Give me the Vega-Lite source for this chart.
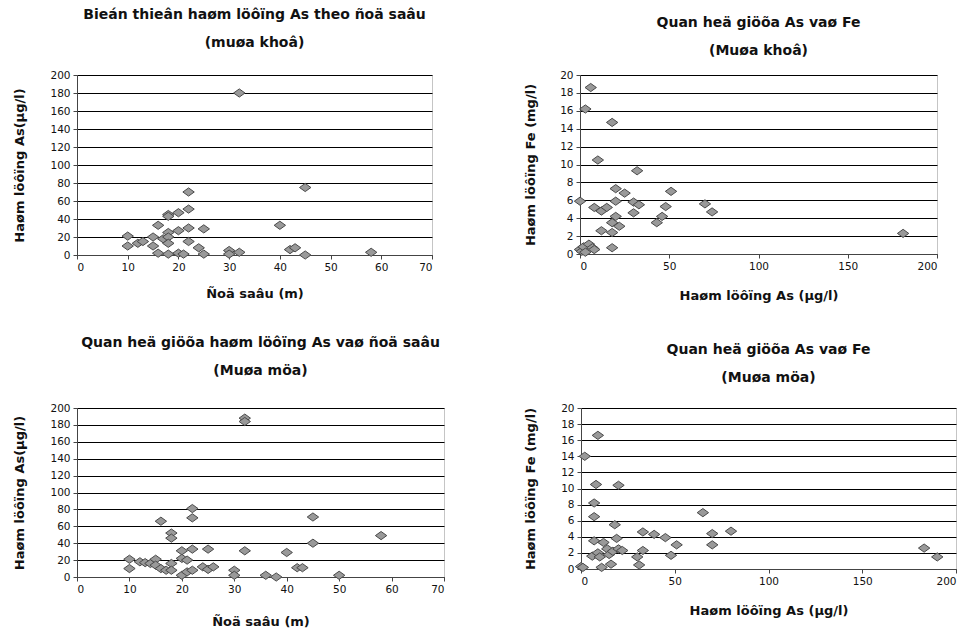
{
  "$schema": "https://vega.github.io/schema/vega-lite/v6.json",
  "background": "white",
  "padding": {"left": 13, "top": 7, "right": 3, "bottom": 0},
  "datasets": {
    "khoDepth": [
      {"depth": 10, "as": 21}, {"depth": 10, "as": 10}, {"depth": 12, "as": 13}, {"depth": 13, "as": 15},
      {"depth": 15, "as": 20}, {"depth": 15, "as": 10}, {"depth": 16, "as": 33}, {"depth": 16, "as": 2},
      {"depth": 17, "as": 18}, {"depth": 18, "as": 45}, {"depth": 18, "as": 43}, {"depth": 18, "as": 25},
      {"depth": 18, "as": 20}, {"depth": 18, "as": 13}, {"depth": 18, "as": 1}, {"depth": 20, "as": 47},
      {"depth": 20, "as": 27}, {"depth": 20, "as": 2}, {"depth": 21, "as": 1}, {"depth": 22, "as": 70},
      {"depth": 22, "as": 51}, {"depth": 22, "as": 30}, {"depth": 22, "as": 15}, {"depth": 24, "as": 8},
      {"depth": 25, "as": 29}, {"depth": 25, "as": 1}, {"depth": 30, "as": 5}, {"depth": 30, "as": 1},
      {"depth": 32, "as": 180}, {"depth": 32, "as": 3}, {"depth": 40, "as": 33}, {"depth": 42, "as": 6},
      {"depth": 43, "as": 8}, {"depth": 45, "as": 75}, {"depth": 45, "as": 0}, {"depth": 58, "as": 3}
    ],
    "khoFe": [
      {"as": 0, "fe": 5.9}, {"as": 3, "fe": 16.2}, {"as": 6, "fe": 18.6}, {"as": 18, "fe": 14.7},
      {"as": 10, "fe": 10.5}, {"as": 32, "fe": 9.3}, {"as": 20, "fe": 7.3}, {"as": 25, "fe": 6.8},
      {"as": 51, "fe": 7.0}, {"as": 20, "fe": 5.9}, {"as": 30, "fe": 5.8}, {"as": 33, "fe": 5.5},
      {"as": 48, "fe": 5.3}, {"as": 70, "fe": 5.6}, {"as": 74, "fe": 4.7}, {"as": 8, "fe": 5.2},
      {"as": 12, "fe": 4.8}, {"as": 15, "fe": 5.2}, {"as": 30, "fe": 4.6}, {"as": 20, "fe": 4.2},
      {"as": 46, "fe": 4.2}, {"as": 43, "fe": 3.5}, {"as": 18, "fe": 3.5}, {"as": 22, "fe": 3.1},
      {"as": 12, "fe": 2.6}, {"as": 18, "fe": 2.4}, {"as": 18, "fe": 0.7}, {"as": 0, "fe": 0.5},
      {"as": 1, "fe": 0.3}, {"as": 2, "fe": 0.8}, {"as": 3, "fe": 0.2}, {"as": 5, "fe": 1.1},
      {"as": 7, "fe": 0.7}, {"as": 8, "fe": 0.5}, {"as": 181, "fe": 2.3}
    ],
    "muaDepth": [
      {"depth": 10, "as": 21}, {"depth": 10, "as": 10}, {"depth": 12, "as": 18}, {"depth": 13, "as": 17},
      {"depth": 14, "as": 16}, {"depth": 15, "as": 21}, {"depth": 15, "as": 14}, {"depth": 16, "as": 66},
      {"depth": 16, "as": 10}, {"depth": 17, "as": 8}, {"depth": 18, "as": 52}, {"depth": 18, "as": 46},
      {"depth": 18, "as": 16}, {"depth": 18, "as": 8}, {"depth": 20, "as": 31}, {"depth": 20, "as": 22},
      {"depth": 20, "as": 2}, {"depth": 21, "as": 6}, {"depth": 21, "as": 20}, {"depth": 22, "as": 81},
      {"depth": 22, "as": 70}, {"depth": 22, "as": 33}, {"depth": 22, "as": 8}, {"depth": 24, "as": 12},
      {"depth": 25, "as": 33}, {"depth": 25, "as": 9}, {"depth": 26, "as": 12}, {"depth": 30, "as": 8},
      {"depth": 30, "as": 2}, {"depth": 32, "as": 188}, {"depth": 32, "as": 184}, {"depth": 32, "as": 31},
      {"depth": 36, "as": 2}, {"depth": 38, "as": 0}, {"depth": 40, "as": 29}, {"depth": 42, "as": 11},
      {"depth": 43, "as": 11}, {"depth": 45, "as": 71}, {"depth": 45, "as": 40}, {"depth": 50, "as": 2},
      {"depth": 58, "as": 49}
    ],
    "muaFe": [
      {"as": 0, "fe": 0.3}, {"as": 1, "fe": 0.2}, {"as": 2, "fe": 14.0}, {"as": 9, "fe": 16.6},
      {"as": 8, "fe": 10.5}, {"as": 20, "fe": 10.4}, {"as": 7, "fe": 8.2}, {"as": 7, "fe": 6.5},
      {"as": 18, "fe": 5.5}, {"as": 7, "fe": 3.5}, {"as": 12, "fe": 3.3}, {"as": 19, "fe": 3.8},
      {"as": 33, "fe": 4.6}, {"as": 39, "fe": 4.3}, {"as": 45, "fe": 3.9}, {"as": 51, "fe": 3.0},
      {"as": 48, "fe": 1.7}, {"as": 65, "fe": 7.0}, {"as": 70, "fe": 4.4}, {"as": 70, "fe": 3.0},
      {"as": 80, "fe": 4.7}, {"as": 33, "fe": 2.3}, {"as": 30, "fe": 1.5}, {"as": 31, "fe": 0.5},
      {"as": 6, "fe": 1.6}, {"as": 9, "fe": 2.0}, {"as": 10, "fe": 1.5}, {"as": 14, "fe": 2.5},
      {"as": 15, "fe": 1.8}, {"as": 17, "fe": 2.2}, {"as": 20, "fe": 2.5}, {"as": 22, "fe": 2.3},
      {"as": 16, "fe": 0.6}, {"as": 11, "fe": 0.2}, {"as": 183, "fe": 2.6}, {"as": 190, "fe": 1.5}
    ]
  },
  "config": {
    "font": "DejaVu Sans",
    "view": {"stroke": "#8a8a8a", "strokeDash": [1, 1], "strokeWidth": 1},
    "axis": {
      "labelFont": "DejaVu Sans", "labelFontSize": 10.5, "labelColor": "#111",
      "titleFont": "DejaVu Sans", "titleFontSize": 13, "titleFontWeight": "bold", "titleColor": "#111",
      "domainColor": "#444", "tickColor": "#444", "tickSize": 4, "labelPadding": 3, "grid": false
    },
    "axisY": {"grid": true, "gridColor": "#000", "gridWidth": 1, "gridOpacity": 1},
    "title": {"font": "DejaVu Sans", "fontSize": 14, "fontWeight": "bold", "color": "#111", "anchor": "middle", "lineHeight": 28, "offset": 20},
    "point": {"shape": "M-1,0L0,-0.72L1,0L0,0.72Z", "filled": true, "fill": "#999999", "stroke": "#4a4a4a", "strokeWidth": 1, "size": 130, "opacity": 1}
  },
  "vconcat": [
    {
      "hconcat": [
        {
          "title": {"text": ["Bieán thieân haøm löôïng As theo ñoä saâu", "(muøa khoâ)"], "offset": 20},
          "width": 355, "height": 180,
          "data": {"name": "khoDepth"},
          "mark": {"type": "point"},
          "encoding": {
            "x": {"field": "depth", "type": "quantitative", "scale": {"domain": [0, 70], "nice": false},
                  "axis": {"values": [0, 10, 20, 30, 40, 50, 60, 70], "title": "Ñoä saâu (m)", "titlePadding": 15}},
            "y": {"field": "as", "type": "quantitative", "scale": {"domain": [0, 200], "nice": false},
                  "axis": {"values": [0, 20, 40, 60, 80, 100, 120, 140, 160, 180, 200], "title": "Haøm löôïng As(µg/l)", "titlePadding": 23}}
          }
        },
        {
          "title": {"text": ["Quan heä giöõa As vaø Fe", "(Muøa khoâ)"], "offset": 12},
          "width": 357, "height": 179,
          "data": {"name": "khoFe"},
          "mark": {"type": "point"},
          "encoding": {
            "x": {"field": "as", "type": "quantitative", "scale": {"domain": [0, 200], "nice": false},
                  "axis": {"values": [0, 50, 100, 150, 200], "title": "Haøm löôïng As (µg/l)", "titlePadding": 18}},
            "y": {"field": "fe", "type": "quantitative", "scale": {"domain": [0, 20], "nice": false},
                  "axis": {"values": [0, 2, 4, 6, 8, 10, 12, 14, 16, 18, 20], "title": "Haøm löôïng Fe (mg/l)", "titlePadding": 22}}
          }
        }
      ],
      "spacing": 91
    },
    {
      "hconcat": [
        {
          "title": {"text": ["Quan heä giöõa haøm löôïng As vaø ñoä saâu", "(Muøa möa)"], "offset": 25},
          "width": 367, "height": 169,
          "data": {"name": "muaDepth"},
          "mark": {"type": "point"},
          "encoding": {
            "x": {"field": "depth", "type": "quantitative", "scale": {"domain": [0, 70], "nice": false},
                  "axis": {"values": [0, 10, 20, 30, 40, 50, 60, 70], "title": "Ñoä saâu (m)", "titlePadding": 21}},
            "y": {"field": "as", "type": "quantitative", "scale": {"domain": [0, 200], "nice": false},
                  "axis": {"values": [0, 20, 40, 60, 80, 100, 120, 140, 160, 180, 200], "title": "Haøm löôïng As(µg/l)", "titlePadding": 23}}
          }
        },
        {
          "title": {"text": ["Quan heä giöõa As vaø Fe", "(Muøa möa)"], "offset": 18},
          "width": 375, "height": 161,
          "data": {"name": "muaFe"},
          "mark": {"type": "point"},
          "encoding": {
            "x": {"field": "as", "type": "quantitative", "scale": {"domain": [0, 200], "nice": false},
                  "axis": {"values": [0, 50, 100, 150, 200], "title": "Haøm löôïng As (µg/l)", "titlePadding": 18}},
            "y": {"field": "fe", "type": "quantitative", "scale": {"domain": [0, 20], "nice": false},
                  "axis": {"values": [0, 2, 4, 6, 8, 10, 12, 14, 16, 18, 20], "title": "Haøm löôïng Fe (mg/l)", "titlePadding": 23}}
          }
        }
      ],
      "spacing": 79
    }
  ],
  "spacing": 32
}
